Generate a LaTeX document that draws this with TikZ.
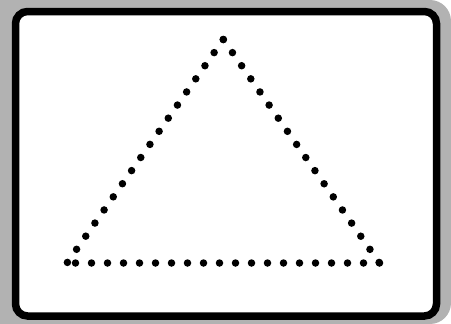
\documentclass[tikz,border=0pt]{standalone}
\begin{document}
\begin{tikzpicture}[x=1pt,y=-1pt,
  dotline/.style={line width=7.5pt, line cap=round, dash pattern=on 0pt off 16pt},
  frame/.style={line width=7.5pt, rounded corners=12pt, fill=white, draw=black}]
\useasboundingbox (0,0) rectangle (451,324);
\begin{scope}
\clip (0,0) rectangle (451,324);
\fill[white] (0,0) rectangle (451,324);
\fill[gray!60, rounded corners=21pt] (-40,0) rectangle (451,324);
\end{scope}
\draw[frame] (15.5,11.5) rectangle (436.5,316);
\coordinate (A) at (223.3,39.5);
\coordinate (L) at (67,263);
\coordinate (R) at (379.5,263);
\draw[dotline] (A) -- (L);
\draw[dotline] (A) -- (R);
\draw[dotline] (R) -- (L);
\end{tikzpicture}
\end{document}
